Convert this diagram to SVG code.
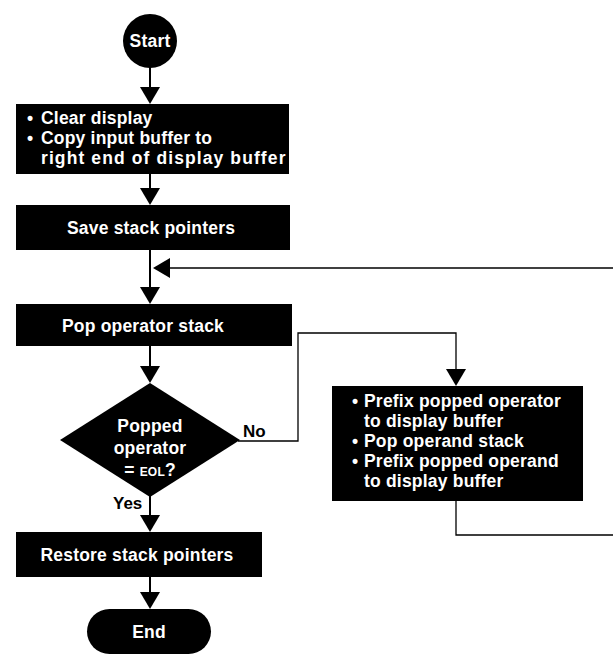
<svg xmlns="http://www.w3.org/2000/svg" width="613" height="655" viewBox="0 0 613 655">
<style>
.shape{fill:#000}
.t{font-family:"Liberation Sans",Arial,sans-serif;font-weight:bold;font-size:17.5px;fill:#fff;letter-spacing:0.2px}
.c{text-anchor:middle}
.wide{letter-spacing:1.1px}
.lbl{font-family:"Liberation Sans",Arial,sans-serif;font-weight:bold;font-size:17px;fill:#000}
.ln{fill:none;stroke:#000;stroke-width:2}
.lt{fill:none;stroke:#000;stroke-width:1.3}
.ah{fill:#000}
</style>
<rect width="613" height="655" fill="#fff"/>
<g id="connectors">
<line class="ln" x1="150" y1="66" x2="150" y2="90"/>
<polygon class="ah" points="140,87 160,87 150,104"/>
<line class="ln" x1="150" y1="174" x2="150" y2="192"/>
<polygon class="ah" points="140,188 160,188 150,205"/>
<line class="ln" x1="150" y1="250" x2="150" y2="292"/>
<polygon class="ah" points="140,287 160,287 150,304"/>
<line class="lt" x1="613" y1="268" x2="166" y2="268"/>
<polygon class="ah" points="170,258 170,278 153,268"/>
<line class="ln" x1="150" y1="346" x2="150" y2="370"/>
<polygon class="ah" points="140,366 160,366 150,383"/>
<polyline class="lt" points="238,441 298,441 298,333 456,333 456,375"/>
<polygon class="ah" points="446,369 466,369 456,386"/>
<polyline class="lt" points="456,501 456,535 613,535"/>
<line class="ln" x1="150" y1="495" x2="150" y2="520"/>
<polygon class="ah" points="140,515 160,515 150,532"/>
<line class="ln" x1="150" y1="577" x2="150" y2="597"/>
<polygon class="ah" points="140,592 160,592 150,609"/>
<text class="lbl" x="243" y="437">No</text>
<text class="lbl" x="113" y="509">Yes</text>
</g>
<g id="start">
<circle class="shape" cx="150" cy="41" r="27"/>
<text class="t c" x="150" y="47">Start</text>
</g>
<g id="clear-display">
<rect class="shape" x="16" y="104" width="273" height="70"/>
<text class="t"><tspan x="27" y="124">•</tspan><tspan x="41" y="124">Clear display</tspan></text>
<text class="t"><tspan x="27" y="144">•</tspan><tspan x="41" y="144">Copy input buffer to</tspan></text>
<text class="t wide" x="41" y="164">right end of display buffer</text>
</g>
<g id="save">
<rect class="shape" x="16" y="205" width="274" height="45"/>
<text class="t c" x="151" y="234">Save stack pointers</text>
</g>
<g id="pop">
<rect class="shape" x="16" y="304" width="276" height="42"/>
<text class="t c" x="143" y="332">Pop operator stack</text>
</g>
<g id="decision">
<polygon class="shape" points="150,383 240,440 150,497 60,440"/>
<text class="t c" x="150" y="432">Popped</text>
<text class="t c" x="150" y="454">operator</text>
<text class="t c" x="150" y="476">= <tspan style="font-size:12px">EOL</tspan>?</text>
</g>
<g id="prefix">
<rect class="shape" x="332" y="386" width="251" height="115"/>
<text class="t"><tspan x="352" y="407">•</tspan><tspan x="364" y="407">Prefix popped operator</tspan></text>
<text class="t" x="364" y="427">to display buffer</text>
<text class="t"><tspan x="352" y="447">•</tspan><tspan x="364" y="447">Pop operand stack</tspan></text>
<text class="t"><tspan x="352" y="467">•</tspan><tspan x="364" y="467">Prefix popped operand</tspan></text>
<text class="t" x="364" y="487">to display buffer</text>
</g>
<g id="restore">
<rect class="shape" x="16" y="532" width="246" height="45"/>
<text class="t c" x="137" y="561">Restore stack pointers</text>
</g>
<g id="end">
<rect class="shape" x="87" y="609" width="124" height="45" rx="22.5"/>
<text class="t c" x="149" y="638">End</text>
</g>
</svg>
